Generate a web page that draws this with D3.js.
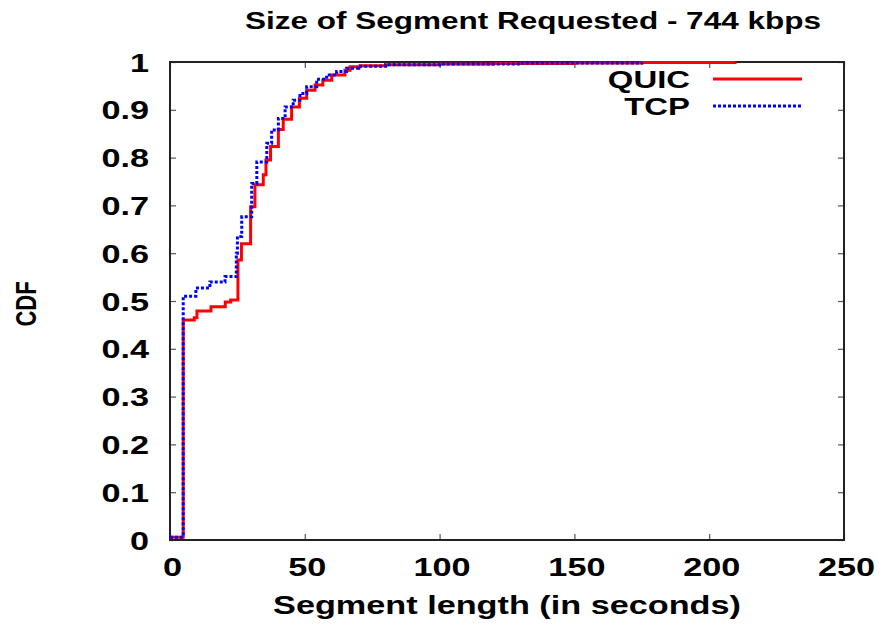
<!DOCTYPE html>
<html>
<head>
<meta charset="utf-8">
<script src="https://cdn.jsdelivr.net/npm/d3@7/dist/d3.min.js"></script>
<style>
  html, body { margin: 0; padding: 0; background: #fff; }
  svg { display: block; }
  text { font-family: "Liberation Sans", Arial, Helvetica, sans-serif; font-weight: bold; fill: #000; }
</style>
</head>
<body>
<svg id="chart" width="882" height="630"></svg>
<script>
// CDF of requested segment length, 744 kbps
const seriesNames = ["QUIC", "TCP"];
const seriesColors = ["#ff0000", "#0000ff"];

// step points: [segment length (s), cumulative fraction]
const quicX = [0, 4.9, 9.0, 10.0, 15.2, 20.5, 22.5, 25.2, 26.5, 29.9, 31.5, 34.6, 35.6, 37.3, 40.2, 42.0, 45.1, 48.0, 50.7, 53.8, 56.7, 60.0, 64.9, 66.8, 70.5, 80, 100, 120, 150, 175, 209.6];
const quicY = [0.006, 0.46, 0.465, 0.479, 0.488, 0.498, 0.502, 0.586, 0.62, 0.697, 0.743, 0.764, 0.795, 0.823, 0.859, 0.88, 0.906, 0.924, 0.941, 0.952, 0.962, 0.973, 0.983, 0.99, 0.992, 0.994, 0.996, 0.997, 0.998, 0.999, 1.0];

const tcpX = [0, 4.9, 9.6, 14.8, 20.4, 24.6, 25.0, 26.6, 30.3, 32.2, 35.9, 37.7, 40.2, 42.7, 45.7, 48.2, 50.7, 54.4, 58.1, 61.8, 65.5, 70, 80, 100, 130, 175];
const tcpY = [0.006, 0.51, 0.527, 0.54, 0.551, 0.6, 0.635, 0.676, 0.746, 0.791, 0.83, 0.858, 0.882, 0.906, 0.92, 0.934, 0.948, 0.964, 0.973, 0.98, 0.987, 0.991, 0.994, 0.996, 0.998, 0.999];

const xTicks = [0, 50, 100, 150, 200, 250];
const xTickLabels = ["0", "50", "100", "150", "200", "250"];
const yTicks = [0, 0.1, 0.2, 0.3, 0.4, 0.5, 0.6, 0.7, 0.8, 0.9, 1];
const yTickLabels = ["0", "0.1", "0.2", "0.3", "0.4", "0.5", "0.6", "0.7", "0.8", "0.9", "1"];

const titleText = "Size of Segment Requested - 744 kbps";
const xLabelText = "Segment length (in seconds)";
const yLabelText = "CDF";

// layout
const margin = { left: 170, top: 62, right: 38, bottom: 90 };
const W = 882, H = 630;
const innerW = W - margin.left - margin.right;
const innerH = H - margin.top - margin.bottom;
const SX = 1.37; // horizontal glyph stretch of the lettering

const svg = d3.select("#chart");
const g = svg.append("g").attr("transform", `translate(${margin.left},${margin.top})`);

const x = d3.scaleLinear().domain([0, 250]).range([0, innerW]);
const y = d3.scaleLinear().domain([0, 1]).range([innerH, 0]);

// axes with inward ticks on all four sides
const tickLen = 6;
const axB = g.append("g").attr("transform", `translate(0,${innerH})`)
  .call(d3.axisBottom(x).tickValues(xTicks).tickSizeInner(-tickLen).tickSizeOuter(0)
    .tickFormat((d, i) => xTickLabels[i]));
axB.selectAll("text")
  .attr("y", 0).attr("dy", null)
  .attr("transform", `translate(2,36) scale(${SX},1)`)
  .style("font-size", "25px");

const axL = g.append("g")
  .call(d3.axisLeft(y).tickValues(yTicks).tickSizeInner(-tickLen).tickSizeOuter(0)
    .tickFormat((d, i) => yTickLabels[i]));
axL.selectAll("text")
  .attr("x", 0).attr("dy", null)
  .attr("transform", `translate(-21,9) scale(${SX},1)`)
  .style("font-size", "25px");

g.append("g").attr("class", "mirror")
  .call(d3.axisTop(x).tickValues(xTicks).tickSizeInner(-tickLen).tickSizeOuter(0).tickFormat(""));
g.append("g").attr("class", "mirror").attr("transform", `translate(${innerW},0)`)
  .call(d3.axisRight(y).tickValues(yTicks).tickSizeInner(-tickLen).tickSizeOuter(0).tickFormat(""));

g.selectAll(".domain").remove();
g.selectAll(".tick line").attr("stroke", "#555").attr("stroke-width", 1.2);

// frame
g.append("rect")
  .attr("x", 0).attr("y", 0).attr("width", innerW).attr("height", innerH)
  .attr("fill", "none").attr("stroke", "#222").attr("stroke-width", 2);

// CDF curves
const line = d3.line()
  .x(d => x(d[0]))
  .y(d => y(d[1]))
  .curve(d3.curveStepAfter);

const quicPts = quicX.map((v, i) => [v, quicY[i]]);
const tcpPts = tcpX.map((v, i) => [v, tcpY[i]]);

g.append("path").datum(quicPts)
  .attr("d", line).attr("fill", "none")
  .attr("stroke", seriesColors[0]).attr("stroke-width", 3);

g.append("path").datum(tcpPts)
  .attr("d", line).attr("fill", "none")
  .attr("stroke", seriesColors[1]).attr("stroke-width", 3)
  .attr("stroke-dasharray", "3,2");

// legend
const legend = svg.append("g");
const legendRows = [
  { name: seriesNames[0], color: seriesColors[0], dash: null, ty: 88, ly: 79 },
  { name: seriesNames[1], color: seriesColors[1], dash: "3,2", ty: 115, ly: 106 }
];
legendRows.forEach(r => {
  legend.append("text")
    .attr("text-anchor", "end")
    .attr("transform", `translate(690,${r.ty}) scale(${SX},1)`)
    .style("font-size", "24px")
    .text(r.name);
  legend.append("line")
    .attr("x1", 713).attr("x2", 802).attr("y1", r.ly).attr("y2", r.ly)
    .attr("stroke", r.color).attr("stroke-width", 3)
    .attr("stroke-dasharray", r.dash);
});

// title and axis labels
svg.append("text")
  .attr("text-anchor", "middle")
  .attr("transform", `translate(533,29) scale(${SX},1)`)
  .style("font-size", "23px")
  .text(titleText);

svg.append("text")
  .attr("text-anchor", "middle")
  .attr("transform", `translate(507,614) scale(${SX},1)`)
  .style("font-size", "25px")
  .text(xLabelText);

svg.append("text")
  .attr("text-anchor", "middle")
  .attr("transform", `translate(36,304) scale(${SX},1) rotate(-90)`)
  .style("font-size", "22px")
  .text(yLabelText);
</script>
</body>
</html>
